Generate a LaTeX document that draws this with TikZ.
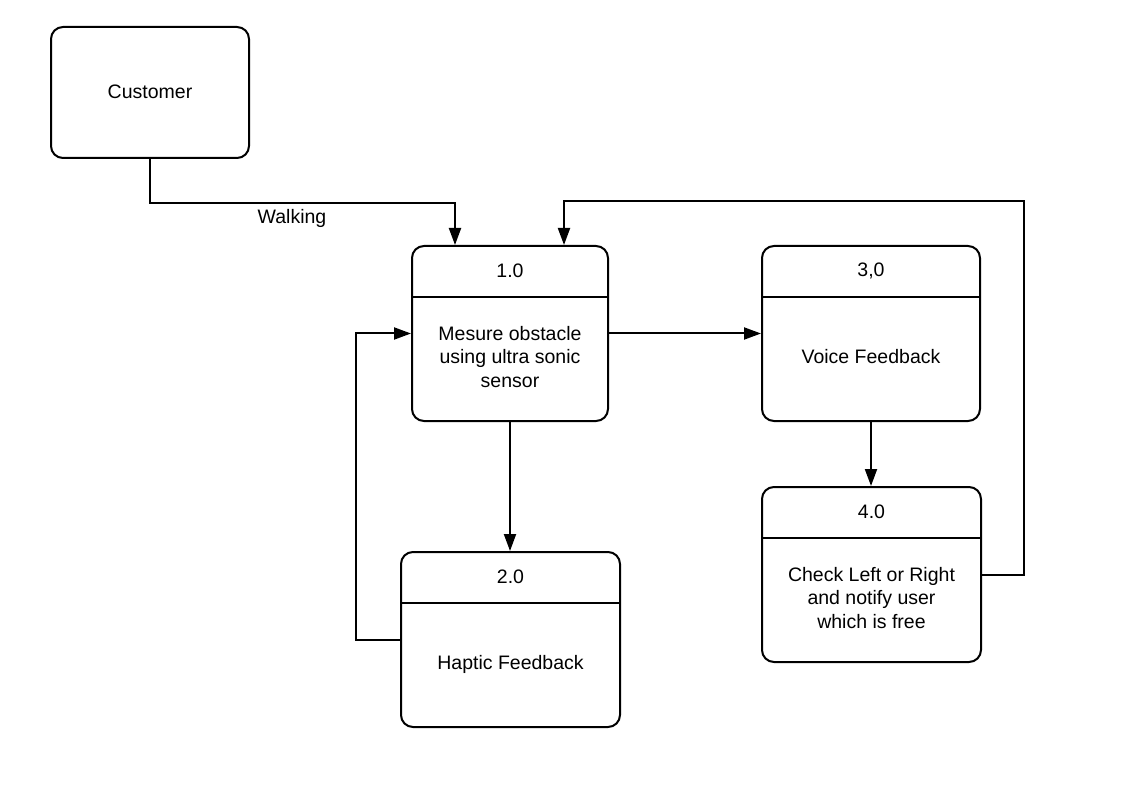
\documentclass[tikz,border=0pt]{standalone}
\usepackage{fontspec}
\setmainfont{Liberation Sans}
\usetikzlibrary{arrows.meta}
\begin{document}
\begin{tikzpicture}[x=1pt,y=-1pt,
  box/.style={draw, line width=2pt, rounded corners=12pt, inner sep=0pt},
  txt/.style={font=\fontsize{19.5}{23.5}\selectfont, align=center, inner sep=0pt},
  conn/.style={line width=2pt, -{Triangle[length=17pt,width=12pt]}},
  divl/.style={line width=2pt}]
\useasboundingbox (0,0) rectangle (1146,794);
% boxes
\node[box, minimum width=198pt, minimum height=131pt] (cust) at (150,92.5) {};
\node[txt] (custt) at (150,92) {Customer};
\node[box, minimum width=196pt, minimum height=175pt] (b1) at (510,333.5) {};
\node[box, minimum width=218pt, minimum height=175pt] (b3) at (871,333.5) {};
\node[box, minimum width=219pt, minimum height=175pt] (b4) at (871.5,574.5) {};
\node[box, minimum width=219pt, minimum height=175pt] (b2) at (510.5,639.5) {};
% dividers
\foreach \b in {b1,b2,b3,b4}{
  \draw[divl] ([yshift=-52pt]\b.north west) -- ([yshift=-52pt]\b.north east);
}
% headers
\node[txt] (b1h) at (510,271) {1.0};
\node[txt] (b3h) at (871,271) {3,0};
\node[txt] (b4h) at (871.5,512) {4.0};
\node[txt] (b2h) at (510.5,577) {2.0};
% bodies
\node[txt] (b1t) at (510,357) {Mesure obstacle\\using ultra sonic\\sensor};
\node[txt] (b3t) at (871,357) {Voice Feedback};
\node[txt] (b4t) at (871.5,598) {Check Left or Right\\and notify user\\which is free};
\node[txt] (b2t) at (510.5,664) {Haptic Feedback};
% connectors
\coordinate (c1) at (150,203);
\coordinate (c2) at (455,203);
\draw[conn] (cust.south) -- (c1) -- (c2) -- (c2 |- b1.north);
\node[txt] (walk) at (292,218) {Walking};
\draw[conn] (b1.east) -- (b3.west);
\draw[conn] (b1.south) -- (b1.south |- b2.north);
\coordinate (d1) at (356,639.5);
\coordinate (d2) at (356,333.5);
\draw[conn] (b2.west) -- (d1) -- (d2) -- (b1.west);
\draw[conn] (b3.south) -- (b3.south |- b4.north);
\coordinate (e1) at (1024,574.5);
\coordinate (e2) at (1024,201);
\coordinate (e3) at (564,201);
\draw[conn] (b4.east) -- (e1) -- (e2) -- (e3) -- (e3 |- b1.north);
\end{tikzpicture}
\end{document}
